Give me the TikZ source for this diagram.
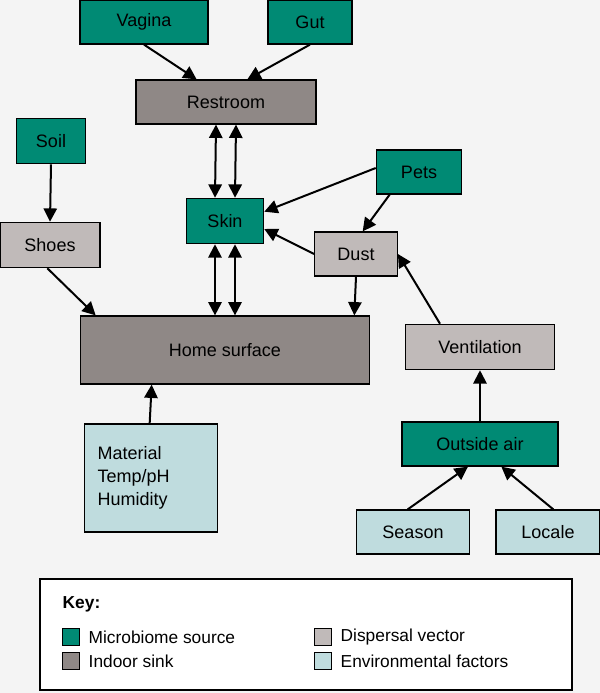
\documentclass[tikz,border=0pt]{standalone}
\usepackage{fontspec}
\setmainfont{Liberation Sans}
\usetikzlibrary{arrows.meta}
\definecolor{srcgreen}{HTML}{008A74}
\definecolor{sinkgray}{HTML}{8F8886}
\definecolor{vecgray}{HTML}{C0BAB9}
\definecolor{envblue}{HTML}{BFDCDE}
\definecolor{bggray}{HTML}{F4F4F4}
\tikzset{
  box/.style={draw=black, line width=0.9pt, inner sep=0pt, align=left,
    font=\fontsize{13.5}{17}\selectfont},
  source/.style={box, fill=srcgreen},
  sink/.style={box, fill=sinkgray},
  vector/.style={box, fill=vecgray},
  envf/.style={box, fill=envblue},
  arr/.style={-{Triangle[length=10pt,width=10pt]}, line width=1.5pt},
  darr/.style={{Triangle[length=10pt,width=10pt]}-{Triangle[length=10pt,width=10pt]}, line width=1.5pt},
  swatch/.style={draw=black, line width=0.7pt, minimum size=13pt, inner sep=0pt},
  keytext/.style={anchor=west, font=\fontsize{13}{15}\selectfont}
}
\begin{document}
\begin{tikzpicture}[x=0.75pt,y=-0.75pt]
\fill[bggray] (0,0) rectangle (600,693);
\useasboundingbox (0,0) rectangle (600,693);

% sources
\node[source, minimum width=96pt, minimum height=33pt] (vagina) at (144,22) {Vagina};
\node[source, minimum width=63pt, minimum height=33pt] (gut) at (310,22) {Gut};
\node[source, minimum width=52pt, minimum height=34pt] (soil) at (51,141) {Soil};
\node[source, minimum width=64pt, minimum height=33pt] (pets) at (419,172) {Pets};
\node[source, minimum width=58pt, minimum height=34pt] (skin) at (225,221) {Skin};
\node[source, minimum width=117pt, minimum height=33pt] (outside) at (480,444) {Outside air};

% sinks
\node[sink, minimum width=135pt, minimum height=33pt] (restroom) at (226,102) {Restroom};
\node[sink, minimum width=217pt, minimum height=51pt] (home) at (225,350) {Home surface};

% vectors
\node[vector, minimum width=75pt, minimum height=34pt] (shoes) at (50,245) {Shoes};
\node[vector, minimum width=62pt, minimum height=33pt] (dust) at (356,254) {Dust};
\node[vector, minimum width=112pt, minimum height=34pt] (vent) at (480,347) {Ventilation};

% environment
\node[envf, minimum width=100pt, minimum height=81pt, text width=80pt] (material) at (151,478) {Material\\Temp/pH\\Humidity};
\node[envf, minimum width=85pt, minimum height=33pt] (season) at (413,532) {Season};
\node[envf, minimum width=78pt, minimum height=33pt] (locale) at (548,532) {Locale};

% connectors
\draw[arr] (vagina.south) -- ([xshift=-22pt]restroom.north);
\draw[arr] (gut.south) -- ([xshift=16pt]restroom.north);
\draw[darr] ([xshift=-7.5pt]skin.north) -- ([xshift=-7.5pt]restroom.south);
\draw[darr] ([xshift=7.5pt]skin.north) -- ([xshift=7.5pt]restroom.south);
\draw[darr] ([xshift=-7.5pt]skin.south) -- ([xshift=-7.5pt]home.north);
\draw[darr] ([xshift=7.5pt]skin.south) -- ([xshift=7.5pt]home.north);
\draw[arr] (soil.south) -- (shoes.north);
\draw[arr] ([xshift=-2pt]shoes.south) -- ([xshift=-97pt]home.north);
\draw[arr] ([yshift=3pt]pets.west) -- ([yshift=7pt]skin.east);
\draw[arr] (dust.west) -- ([yshift=-6pt]skin.east);
\draw[arr] ([xshift=-22pt]pets.south) -- ([xshift=5pt]dust.north);
\draw[arr] (dust.south) -- ([xshift=97pt]home.north);
\draw[arr] ([xshift=-30pt]vent.north) -- (dust.east);
\draw[arr] (outside.north) -- (vent.south);
\draw[arr] ([xshift=-4pt]season.north) -- ([xshift=-9pt]outside.south);
\draw[arr] ([xshift=4pt]locale.north) -- ([xshift=16pt]outside.south);
\draw[arr] ([xshift=-1pt]material.north) -- ([xshift=-55pt]home.south);

% key
\draw[line width=0.8pt, fill=white] (40,579) rectangle (572,690);
\node[anchor=west, font=\bfseries\fontsize{13}{15}\selectfont] (keyhead) at (58,604) {Key:};
\node[swatch, fill=srcgreen] (k1) at (71,637) {};
\node[keytext] (k1t) at (84,637) {Microbiome source};
\node[swatch, fill=sinkgray] (k2) at (71,661) {};
\node[keytext] (k2t) at (84,661) {Indoor sink};
\node[swatch, fill=vecgray] (k3) at (323,637) {};
\node[keytext] (k3t) at (336,637) {Dispersal vector};
\node[swatch, fill=envblue] (k4) at (323,661) {};
\node[keytext] (k4t) at (336,661) {Environmental factors};
\end{tikzpicture}
\end{document}
